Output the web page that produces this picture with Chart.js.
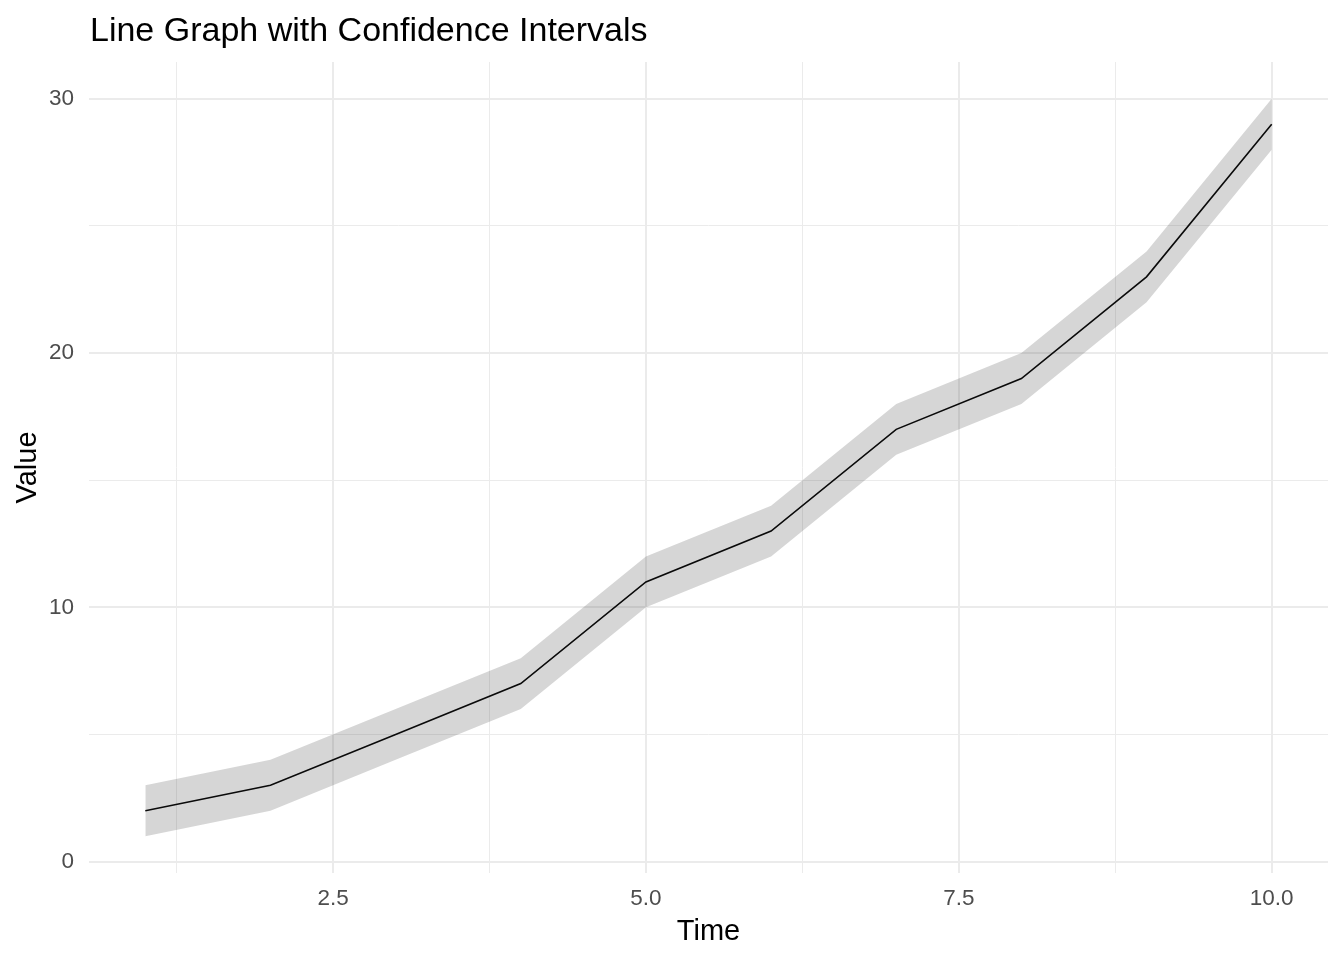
<!DOCTYPE html>
<html>
<head>
<meta charset="utf-8">
<title>Line Graph with Confidence Intervals</title>
<script src="https://cdn.jsdelivr.net/npm/chart.js@4"></script>
<style>
  html, body { margin: 0; padding: 0; background: #ffffff; }
  canvas { display: block; }
</style>
</head>
<body>
<canvas id="ciChart" width="1344" height="960"></canvas>
<script>
// data
const times = [1, 2, 3, 4, 5, 6, 7, 8, 9, 10];
const values = [2, 3, 5, 7, 11, 13, 17, 19, 23, 29];
const lowerCI = [1, 2, 4, 6, 10, 12, 16, 18, 22, 28];
const upperCI = [3, 4, 6, 8, 12, 14, 18, 20, 24, 30];

const xMajorTicks = [2.5, 5.0, 7.5, 10.0];
const xMinorTicks = [1.25, 3.75, 6.25, 8.75];
const yMajorTicks = [0, 10, 20, 30];
const yMinorTicks = [5, 15, 25];

const chartTitle = 'Line Graph with Confidence Intervals';
const fontFamily = '"Liberation Sans", Arial, sans-serif';
const gridColor = '#EBEBEB';

const toPoints = (ys) => times.map((t, i) => ({ x: t, y: ys[i] }));

const buildTicks = (major, minor) => major.concat(minor)
    .sort((a, b) => a - b)
    .map(v => ({ value: v, major: major.includes(v) }));

// draw the plot title lined up with the panel's left edge, like ggplot
const titlePlugin = {
    id: 'panelTitle',
    afterDraw(chart) {
        const ctx = chart.ctx;
        ctx.save();
        ctx.font = `34px ${fontFamily}`;
        ctx.fillStyle = '#000000';
        ctx.textAlign = 'left';
        ctx.textBaseline = 'alphabetic';
        ctx.fillText(chartTitle, chart.chartArea.left + 1, 41);
        ctx.restore();
    }
};

const gridWidth = (ctx) => (ctx.tick && ctx.tick.major ? 2 : 1);

const ctx = document.getElementById('ciChart').getContext('2d');
new Chart(ctx, {
    type: 'line',
    data: {
        datasets: [
            {
                label: 'upper',
                data: toPoints(upperCI),
                borderWidth: 0,
                pointRadius: 0,
                fill: '+1',
                backgroundColor: 'rgba(51, 51, 51, 0.2)'
            },
            {
                label: 'lower',
                data: toPoints(lowerCI),
                borderWidth: 0,
                pointRadius: 0,
                fill: false
            },
            {
                label: 'value',
                data: toPoints(values),
                borderColor: '#000000',
                borderWidth: 1.6,
                pointRadius: 0,
                fill: false
            }
        ]
    },
    options: {
        responsive: false,
        animation: false,
        layout: { padding: { top: 62, right: 16, bottom: 0, left: 0 } },
        plugins: {
            legend: { display: false },
            tooltip: { enabled: false },
            title: { display: false }
        },
        scales: {
            x: {
                type: 'linear',
                min: 0.55,
                max: 10.45,
                afterBuildTicks: (scale) => { scale.ticks = buildTicks(xMajorTicks, xMinorTicks); },
                afterFit: (scale) => { scale.height = 87; },
                border: { display: false },
                grid: { color: gridColor, lineWidth: gridWidth, drawTicks: false },
                ticks: {
                    autoSkip: false,
                    maxRotation: 0,
                    padding: 12,
                    color: '#4D4D4D',
                    font: { family: fontFamily, size: 22.5 },
                    callback: (v) => (xMajorTicks.includes(v) ? v.toFixed(1) : '')
                },
                title: {
                    display: true,
                    text: 'Time',
                    color: '#000000',
                    font: { family: fontFamily, size: 29 },
                    padding: { top: 0, bottom: 11 }
                }
            },
            y: {
                type: 'linear',
                min: -0.45,
                max: 31.45,
                afterBuildTicks: (scale) => { scale.ticks = buildTicks(yMajorTicks, yMinorTicks); },
                afterFit: (scale) => { scale.width = 89; },
                border: { display: false },
                grid: { color: gridColor, lineWidth: gridWidth, drawTicks: false },
                ticks: {
                    autoSkip: false,
                    padding: 15,
                    color: '#4D4D4D',
                    font: { family: fontFamily, size: 22.5 },
                    callback: (v) => (yMajorTicks.includes(v) ? String(v) : '')
                },
                title: {
                    display: true,
                    text: 'Value',
                    color: '#000000',
                    font: { family: fontFamily, size: 29 },
                    padding: { top: 11, bottom: 0 }
                }
            }
        }
    },
    plugins: [titlePlugin]
});
</script>
</body>
</html>
